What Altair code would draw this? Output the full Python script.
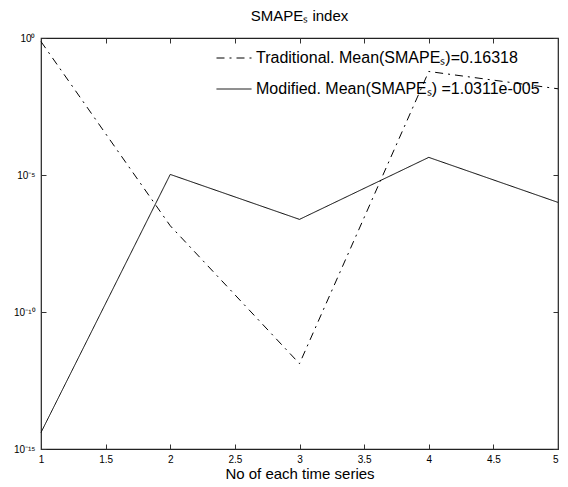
import altair as alt
import pandas as pd

series_no = [1, 2, 3, 4, 5]
traditional = [0.74, 1.4e-7, 1.3e-12, 0.06, 0.014]
modified = [4e-15, 1.05e-5, 2.4e-7, 4.4e-5, 1e-6]

label_trad = "Traditional. Mean(SMAPEₛ)=0.16318"
label_mod = "Modified. Mean(SMAPEₛ) =1.0311e-005"
x_ticks = [1, 1.5, 2, 2.5, 3, 3.5, 4, 4.5, 5]
y_ticks = [1e-15, 1e-10, 1e-5, 1]

rows = []
for xv, v in zip(series_no, traditional):
    rows.append({"x": xv, "v": v, "s": label_trad})
for xv, v in zip(series_no, modified):
    rows.append({"x": xv, "v": v, "s": label_mod})
df = pd.DataFrame(rows)

FONT = "Liberation Sans"
ylab = ("datum.value >= 0.5 ? '10⁰' : datum.value >= 1e-6 ? '10⁻⁵' : "
        "datum.value >= 1e-11 ? '10⁻¹⁰' : '10⁻¹⁵'")

xscale = alt.Scale(domain=[1, 5], nice=False, zero=False)
yscale = alt.Scale(type="log", domain=[1e-15, 1], nice=False)

base = alt.Chart(df)

main = base.mark_line(color="black", strokeWidth=1).encode(
    x=alt.X("x:Q", scale=xscale,
            axis=alt.Axis(orient="bottom", values=x_ticks, format="~g",
                          title="No of each time series",
                          offset=-5, tickSize=5, domain=False, grid=False,
                          labelPadding=5, labelFontSize=10, labelFont=FONT,
                          labelColor="black", tickColor="#333",
                          labelAlign=alt.expr("datum.value >= 5 ? 'right' : 'center'"),
                          titleFont=FONT, titleFontSize=15, titleFontWeight="normal",
                          titleColor="black", titlePadding=2,
                          labelFlush=False)),
    y=alt.Y("v:Q", scale=yscale,
            axis=alt.Axis(orient="left", values=y_ticks, labelExpr=ylab, title=None,
                          offset=-5, tickSize=5, domain=False, grid=False,
                          labelPadding=6, labelFontSize=10, labelFont=FONT,
                          labelColor="black", tickColor="#333", labelFlush=False)),
    strokeDash=alt.StrokeDash("s:N",
        scale=alt.Scale(domain=[label_trad, label_mod], range=[[8, 5, 2, 5], [1, 0]]),
        legend=alt.Legend(title=None, orient="none", legendX=175, legendY=2,
                          symbolType="stroke", symbolSize=1225, symbolStrokeWidth=1,
                          symbolStrokeColor="black", labelFont=FONT, labelFontSize=16,
                          labelColor="black", labelLimit=0, rowPadding=5,
                          labelOffset=4)),
    detail="s:N",
)

frame = base.mark_line(opacity=0).encode(
    x=alt.X("x:Q", scale=xscale,
            axis=alt.Axis(orient="top", values=x_ticks, labels=False, title=None,
                          offset=-5, tickSize=5, domain=False, grid=False,
                          tickColor="#333")),
    y=alt.Y("v:Q", scale=yscale,
            axis=alt.Axis(orient="right", values=y_ticks, labels=False, title=None,
                          offset=-5, tickSize=5, domain=False, grid=False,
                          tickColor="#333")),
    detail="s:N",
)

chart = alt.layer(main, frame).resolve_axis(
    x="independent", y="independent"
).properties(
    width=517, height=411,
    autosize=alt.AutoSizeParams(type="none"),
    padding={"left": 33, "top": 30, "right": 1, "bottom": 33},
    title=alt.Title("SMAPEₛ index", font=FONT, fontSize=15, fontWeight="normal",
                    color="black", offset=9),
).configure_view(stroke="#222", strokeWidth=1.2)

chart.save("out.html", embed_options={"renderer": "svg", "actions": False})
